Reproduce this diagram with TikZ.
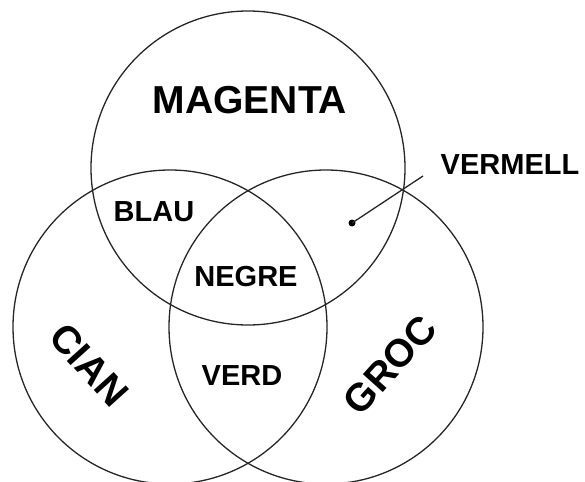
\documentclass[tikz,border=0pt]{standalone}
\usepackage{fontspec}
\setmainfont{Liberation Sans}
\begin{document}
\begin{tikzpicture}[x=1pt,y=-1pt,
  ring/.style={draw=black!85,line width=1.3pt,circle,minimum size=314pt,inner sep=0pt},
  lbl/.style={font=\bfseries\fontsize{29}{29}\selectfont,inner sep=0pt},
  biglbl/.style={font=\bfseries\fontsize{39}{39}\selectfont,inner sep=0pt}]
\useasboundingbox (0,0) rectangle (585,481);
\node[ring] (top) at (248,168) {};
\node[ring] (left) at (170,327) {};
\node[ring] (right) at (326,327) {};
\node[biglbl] (magenta) at (250,100) {MAGENTA};
\node[lbl] (blau) at (154,212) {BLAU};
\node[lbl] (negre) at (246,277) {NEGRE};
\node[lbl] (verd) at (242,376) {VERD};
\node[lbl] (vermell) at (510,165) {VERMELL};
\node[biglbl,rotate=-48] (cian) at (89,365) {CIAN};
\node[biglbl,rotate=48] (groc) at (390,365) {GROC};
\coordinate (dot) at (352,223);
\coordinate (lend) at (423,176);
\fill (dot) circle (3.5pt);
\draw[line width=1.3pt,black!85] (dot) -- (lend);
\end{tikzpicture}
\end{document}
